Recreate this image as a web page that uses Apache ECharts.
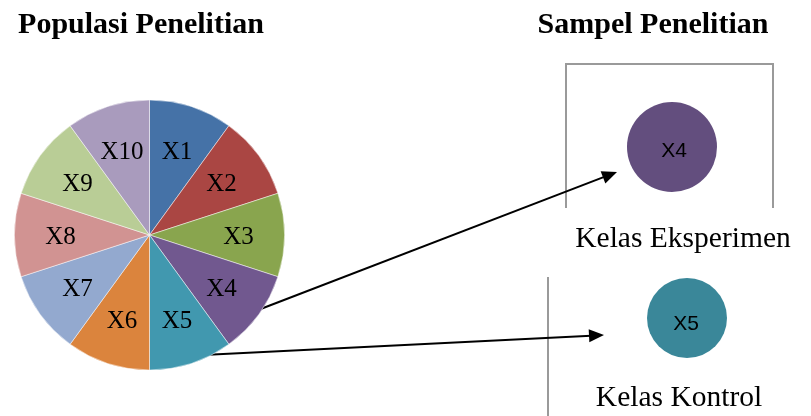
<!DOCTYPE html>
<html>
<head>
<meta charset="utf-8">
<script src="https://cdn.jsdelivr.net/npm/echarts@6/dist/echarts.min.js"></script>
<style>
html,body{margin:0;padding:0;background:#fff;}
#chart{width:811px;height:416px;}
</style>
</head>
<body>
<div id="chart"></div>
<script>
// Data
const categories = ['X1','X2','X3','X4','X5','X6','X7','X8','X9','X10'];
const values = [1,1,1,1,1,1,1,1,1,1];
const sliceColors = ['#4572A7','#AA4643','#89A54E','#71588F','#4198AF','#DB843D','#93A9CF','#D19392','#B9CD96','#A99BBD'];
const titles = ['Populasi Penelitian','Sampel Penelitian'];
const sampleNames = ['X4','X5'];
const sampleColors = ['#634E7E','#3A8799'];
const groupNames = ['Kelas Eksperimen','Kelas Kontrol'];

const serif = '"Liberation Serif", "Times New Roman", serif';
const chart = echarts.init(document.getElementById('chart'));

function arrow(x1,y1,x2,y2){
  const dx=x2-x1, dy=y2-y1, L=Math.hypot(dx,dy), ux=dx/L, uy=dy/L;
  const hl=15, hw=6.5;
  const bx=x2-ux*hl, by=y2-uy*hl;
  return [
    {type:'line', shape:{x1:x1,y1:y1,x2:bx+ux*2,y2:by+uy*2}, style:{stroke:'#000',lineWidth:2}},
    {type:'polygon', shape:{points:[[x2,y2],[bx-uy*hw,by+ux*hw],[bx+uy*hw,by-ux*hw]]}, style:{fill:'#000'}}
  ];
}

const grayLine = {stroke:'#9a9a9a', lineWidth:2};
const sansFont = '21px "Liberation Sans", Arial, sans-serif';
const graphics = [
  {type:'text', x:141, y:25, style:{text:titles[0], font:'bold 30px '+serif, fill:'#000', align:'center', verticalAlign:'middle'}},
  {type:'text', x:653, y:25, style:{text:titles[1], font:'bold 30px '+serif, fill:'#000', align:'center', verticalAlign:'middle'}},
  {type:'polyline', shape:{points:[[566,208],[566,64],[773,64],[773,208]]}, style:Object.assign({fill:null},grayLine)},
  {type:'line', shape:{x1:548,y1:277,x2:548,y2:416}, style:grayLine},
  {type:'circle', shape:{cx:672,cy:147,r:45}, style:{fill:sampleColors[0]}},
  {type:'text', x:674, y:151, style:{text:sampleNames[0], font:sansFont, fill:'#000', align:'center', verticalAlign:'middle'}},
  {type:'circle', shape:{cx:687,cy:318,r:40}, style:{fill:sampleColors[1]}},
  {type:'text', x:686, y:324, style:{text:sampleNames[1], font:sansFont, fill:'#000', align:'center', verticalAlign:'middle'}},
  {type:'text', x:683, y:239, style:{text:groupNames[0], font:'29.5px '+serif, fill:'#000', align:'center', verticalAlign:'middle'}},
  {type:'text', x:679, y:398, style:{text:groupNames[1], font:'29.5px '+serif, fill:'#000', align:'center', verticalAlign:'middle'}}
].concat(arrow(258,310,617,172), arrow(203,355,604,335));

const pieData = categories.map((c,i)=>({name:c, value:values[i], itemStyle:{color:sliceColors[i]}}));

chart.setOption({
  animation:false,
  backgroundColor:'#fff',
  series:[
    {
      type:'pie', center:[149.5,235], radius:[0,135], startAngle:90, clockwise:true,
      silent:true, label:{show:false}, labelLine:{show:false},
      itemStyle:{borderColor:'rgba(255,255,255,0.8)', borderWidth:0.6},
      data:pieData, z:1
    },
    {
      type:'pie', center:[149.5,237], radius:[37,135], startAngle:90, clockwise:true,
      silent:true,
      itemStyle:{color:'rgba(0,0,0,0)', borderWidth:0},
      label:{show:true, position:'inside', formatter:'{b}', color:'#000', fontFamily:serif, fontSize:25, fontWeight:'normal'},
      labelLine:{show:false},
      data:categories.map((c,i)=>({name:c, value:values[i]})), z:2
    }
  ],
  graphic: graphics
});
</script>
</body>
</html>
